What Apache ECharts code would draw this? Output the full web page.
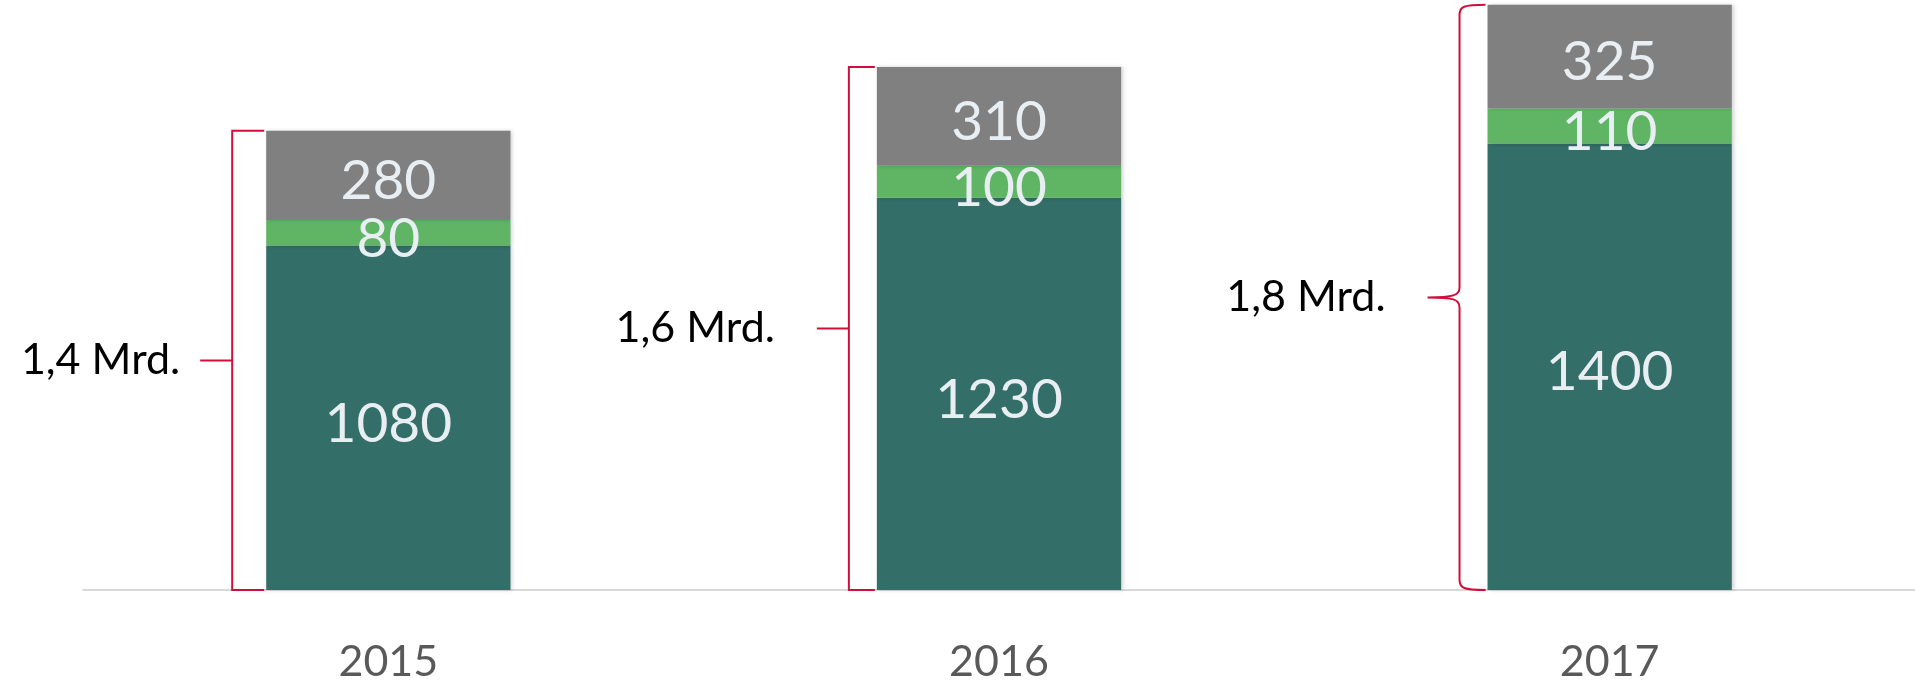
<!DOCTYPE html>
<html>
<head>
<meta charset="utf-8">
<title>Mrd.</title>
<script src="https://cdn.jsdelivr.net/npm/echarts@6/dist/echarts.min.js"></script>
<style>
    html, body { margin: 0; padding: 0; background: #fff; }
    #chart { width: 1915px; height: 686px; }
</style>
</head>
<body>
<div id="chart"></div>
<script>
// values
var years = ['2015', '2016', '2017'];
var teal = [1080, 1230, 1400];
var green = [80, 100, 110];
var grey = [280, 310, 325];
var totalLabels = ['1,4 Mrd.', '1,6 Mrd.', '1,8 Mrd.'];
var braceKinds = ['square', 'square', 'curly'];

var totals = years.map(function (y, i) { return [i, teal[i] + green[i] + grey[i]]; });

var chart = echarts.init(document.getElementById('chart'));

var valueLabel = {
    show: true,
    position: 'inside',
    offset: [0, 6],
    color: '#e8eef2',
    fontFamily: 'Lato',
    fontSize: 55
};

var barShadow = {
    shadowColor: 'rgba(0,0,0,0.18)',
    shadowBlur: 4,
    shadowOffsetX: 2
};

function bracePath(kind, x, top, bottom, w, t) {
    var mid = (top + bottom) / 2;
    if (kind === 'curly') {
        var r = 10;
        return 'M' + (x + w) + ' ' + top +
            ' C' + (x + 4) + ' ' + top + ' ' + x + ' ' + (top + 2) + ' ' + x + ' ' + (top + r) +
            ' L' + x + ' ' + (mid - r) +
            ' C' + x + ' ' + (mid - 2) + ' ' + (x - 6) + ' ' + mid + ' ' + (x - t) + ' ' + mid +
            ' C' + (x - 6) + ' ' + mid + ' ' + x + ' ' + (mid + 2) + ' ' + x + ' ' + (mid + r) +
            ' L' + x + ' ' + (bottom - r) +
            ' C' + x + ' ' + (bottom - 2) + ' ' + (x + 4) + ' ' + bottom + ' ' + (x + w) + ' ' + bottom;
    }
    return 'M' + (x + w) + ' ' + top + ' L' + x + ' ' + top +
        ' L' + x + ' ' + bottom + ' L' + (x + w) + ' ' + bottom +
        ' M' + x + ' ' + mid + ' L' + (x - t) + ' ' + mid;
}

var option = {
    animation: false,
    grid: { left: 83, right: 0, top: 0, bottom: 96 },
    xAxis: {
        type: 'category',
        data: years,
        axisTick: { show: false },
        axisLine: { lineStyle: { color: '#d9d9d9', width: 2 } },
        axisLabel: { color: '#595959', fontFamily: 'Lato', fontSize: 43, margin: 51 }
    },
    yAxis: {
        type: 'value',
        min: 0,
        max: 1850,
        show: false,
        splitLine: { show: false }
    },
    series: [
        {
            name: 'teal', type: 'bar', stack: 'total', barWidth: '40%',
            itemStyle: Object.assign({ color: '#336e69' }, barShadow),
            label: valueLabel, data: teal
        },
        {
            name: 'green', type: 'bar', stack: 'total',
            itemStyle: Object.assign({ color: '#5fb564' }, barShadow),
            label: valueLabel, data: green
        },
        {
            name: 'grey', type: 'bar', stack: 'total',
            itemStyle: Object.assign({ color: '#808080' }, barShadow),
            label: valueLabel, data: grey
        },
        {
            // red brackets with the totals
            type: 'custom',
            data: totals,
            encode: { x: 0, y: 1 },
            silent: true,
            renderItem: function (params, api) {
                var i = params.dataIndex;
                var base = api.coord([api.value(0), 0]);
                var top = api.coord([api.value(0), api.value(1)]);
                var barHalf = api.size([1, 0])[0] * 0.4 / 2;
                var kind = braceKinds[i];
                var x = base[0] - barHalf - (i === 0 ? 34 : 28);
                var mid = (top[1] + base[1]) / 2;
                var tick = 32;
                var gap = i === 0 ? 20 : 42;
                return {
                    type: 'group',
                    children: [
                        {
                            type: 'path',
                            shape: { pathData: bracePath(kind, x, top[1], base[1], i === 0 ? 32 : 26, tick) },
                            style: { fill: null, stroke: '#d0103a', lineWidth: 2 }
                        },
                        {
                            type: 'text',
                            style: {
                                text: totalLabels[i],
                                x: x - tick - gap,
                                y: mid,
                                align: 'right',
                                verticalAlign: 'middle',
                                fill: '#000',
                                font: '43px Lato'
                            }
                        }
                    ]
                };
            }
        }
    ]
};

chart.setOption(option);
</script>
</body>
</html>
